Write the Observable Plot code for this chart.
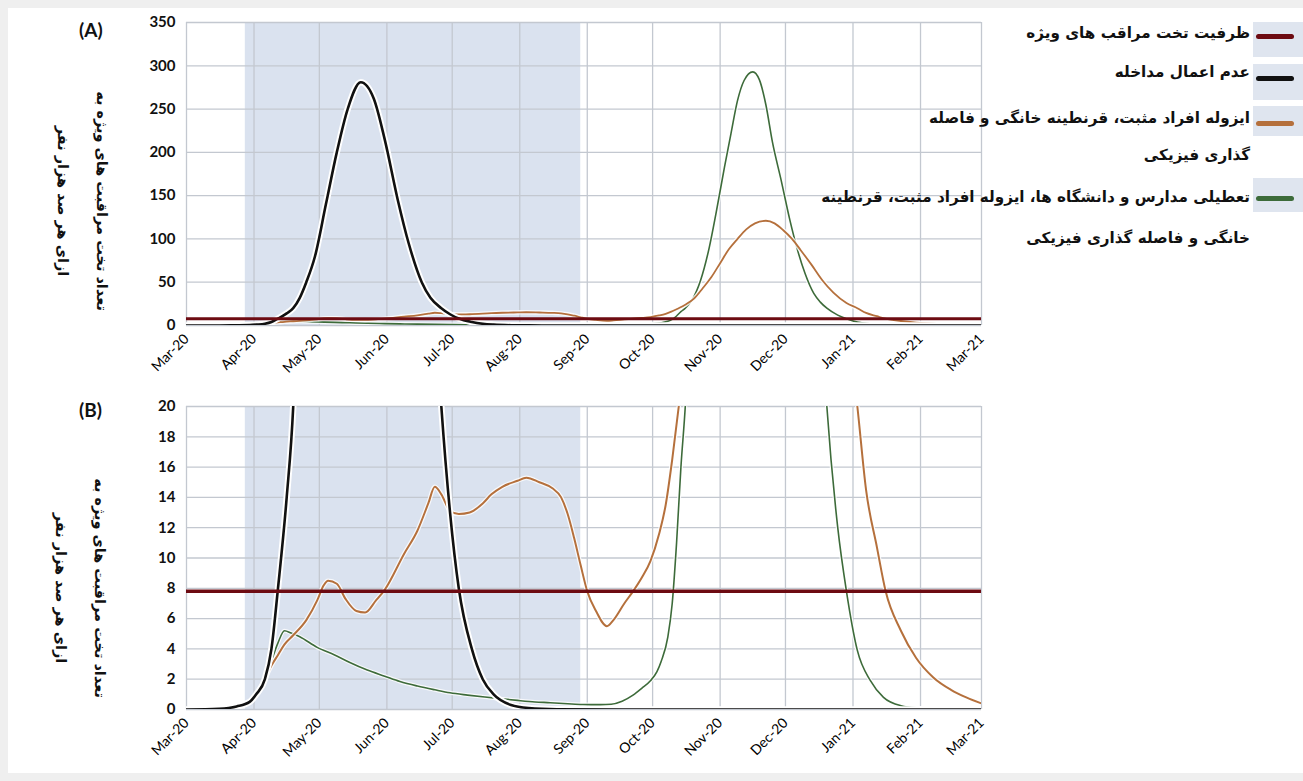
<!DOCTYPE html>
<html><head><meta charset="utf-8">
<script src="https://cdn.jsdelivr.net/npm/d3@7"></script>
<script src="https://cdn.jsdelivr.net/npm/@observablehq/plot@0.6"></script>
<style>
body{margin:0;background:#efefef;width:1303px;height:781px;overflow:hidden;position:relative;font-family:Lato,sans-serif}
#card{position:absolute;left:8px;top:8px;width:1295px;height:765px;background:#fff}
.abs{position:absolute}
.fa{font-family:"DejaVu Sans",sans-serif;font-weight:bold;direction:rtl;white-space:nowrap;color:#111}
.ytitle{position:absolute;width:320px;text-align:center;font-size:14.5px;line-height:18px;transform:rotate(90deg);transform-origin:50% 50%}
.leg{position:absolute;right:53px;font-size:15.2px;line-height:20px;text-align:right}
.legbox{position:absolute;left:1253px;width:50px;background:#dfe5ef}
.legline{position:absolute;left:1256px;width:38px;height:5px;border-radius:2.5px}
.plabel{position:absolute;font-family:Lato,sans-serif;font-weight:bold;font-size:19px;color:#111}
</style></head><body>
<div id="card"></div>
<div id="chartA" class="abs" style="left:120px;top:8px"></div>
<div id="chartB" class="abs" style="left:120px;top:392px"></div>
<div class="plabel" style="left:79px;top:18px">(A)</div>
<div class="plabel" style="left:79px;top:398px">(B)</div>
<div id="titles"></div>
<div id="legend"></div>
<script>
// ---------- data ----------
const monthTicks = ["2020-03-01","2020-04-01","2020-05-01","2020-06-01","2020-07-01","2020-08-01","2020-09-01","2020-10-01","2020-11-01","2020-12-01","2021-01-01","2021-02-01","2021-03-01"];
const monthLabels = ["Mar-20","Apr-20","May-20","Jun-20","Jul-20","Aug-20","Sep-20","Oct-20","Nov-20","Dec-20","Jan-21","Feb-21","Mar-21"];
const yTicksA = [0,50,100,150,200,250,300,350];
const yTicksB = [0,2,4,6,8,10,12,14,16,18,20];
const interventionPeriod = ["2020-03-28","2020-08-29"];
const icuCapacity = 7.8;

const noInterventionDates = ["2020-03-01","2020-03-16","2020-03-24","2020-03-30","2020-04-02","2020-04-06","2020-04-09","2020-04-12","2020-04-16","2020-04-19","2020-04-22","2020-04-25","2020-04-29","2020-05-04","2020-05-09","2020-05-14","2020-05-20","2020-05-26","2020-05-31","2020-06-06","2020-06-11","2020-06-17","2020-06-21","2020-06-26","2020-06-30","2020-07-04","2020-07-10","2020-07-15","2020-07-20","2020-07-28","2020-08-05","2020-08-18","2020-09-17","2021-03-01"];
const noInterventionValues = [0,0.05,0.2,0.5,1,2,4,8,14,20,32,50,80,140,200,250,281,262,215,145,95,50,32,20,13,8,4,2,1,0.3,0.1,0.02,0,0];

const isolationDates = ["2020-03-01","2020-03-16","2020-03-24","2020-03-30","2020-04-02","2020-04-06","2020-04-09","2020-04-12","2020-04-15","2020-04-19","2020-04-25","2020-04-30","2020-05-03","2020-05-05","2020-05-09","2020-05-13","2020-05-18","2020-05-22","2020-05-27","2020-05-31","2020-06-09","2020-06-15","2020-06-20","2020-06-23","2020-06-26","2020-06-30","2020-07-04","2020-07-09","2020-07-15","2020-07-19","2020-07-24","2020-07-31","2020-08-04","2020-08-10","2020-08-16","2020-08-20","2020-08-23","2020-08-26","2020-08-29","2020-09-01","2020-09-05","2020-09-10","2020-09-13","2020-09-18","2020-09-22","2020-09-26","2020-09-30","2020-10-04","2020-10-07","2020-10-10","2020-10-13","2020-10-16","2020-10-20","2020-10-24","2020-10-28","2020-11-01","2020-11-05","2020-11-09","2020-11-13","2020-11-17","2020-11-22","2020-11-26","2020-11-30","2020-12-04","2020-12-08","2020-12-13","2020-12-18","2020-12-23","2020-12-29","2021-01-03","2021-01-07","2021-01-12","2021-01-16","2021-01-23","2021-01-30","2021-02-07","2021-02-15","2021-02-22","2021-03-01"];
const isolationValues = [0.02,0.05,0.2,0.5,1.0,2.0,2.9,3.6,4.3,4.9,5.9,7.2,8.2,8.5,8.3,7.3,6.5,6.4,7.2,7.9,10.3,11.8,13.6,14.7,14.2,13.1,12.9,13.0,13.6,14.2,14.7,15.1,15.3,15.0,14.6,14.0,12.9,11.3,9.5,7.8,6.5,5.5,5.9,7.0,7.8,8.7,9.8,11.6,13.5,16.5,20,24,31,43,56,72,88,100,111,118,121,118,110,100,87,70,52,38,26,20,14.5,10.7,7.8,5.2,3.4,2.1,1.3,0.8,0.4];

const schoolsDates = ["2020-03-01","2020-03-16","2020-03-24","2020-03-30","2020-04-02","2020-04-06","2020-04-09","2020-04-12","2020-04-15","2020-04-18","2020-04-22","2020-04-30","2020-05-08","2020-05-15","2020-05-23","2020-05-31","2020-06-07","2020-06-15","2020-06-23","2020-06-30","2020-07-08","2020-07-16","2020-07-24","2020-07-31","2020-08-08","2020-08-15","2020-08-23","2020-08-30","2020-09-07","2020-09-12","2020-09-17","2020-09-22","2020-09-26","2020-09-30","2020-10-03","2020-10-05","2020-10-08","2020-10-10","2020-10-12","2020-10-14","2020-10-16","2020-10-19","2020-10-23","2020-10-27","2020-10-30","2020-11-03","2020-11-06","2020-11-09","2020-11-12","2020-11-16","2020-11-19","2020-11-22","2020-11-25","2020-11-29","2020-12-03","2020-12-06","2020-12-10","2020-12-14","2020-12-17","2020-12-20","2020-12-25","2020-12-29","2021-01-03","2021-01-09","2021-01-15","2021-01-23","2021-01-31","2021-02-15","2021-03-01"];
const schoolsValues = [0.02,0.05,0.2,0.5,1.0,2.0,3.2,4.4,5.2,5.05,4.8,4.1,3.6,3.1,2.6,2.2,1.85,1.55,1.3,1.1,0.95,0.82,0.7,0.6,0.5,0.45,0.38,0.33,0.32,0.35,0.55,0.95,1.4,1.9,2.5,3.2,4.8,7,11,16,20,29,52,90,128,183,222,260,283,293,284,255,212,168,122,92,60,37,27,20,12,7.8,3.9,1.9,0.8,0.25,0.1,0.02,0];

const legendLabels = [
  ["ظرفیت تخت مراقب های ویژه"],
  ["عدم اعمال مداخله"],
  ["ایزوله افراد مثبت، قرنطینه خانگی و فاصله","گذاری فیزیکی"],
  ["تعطیلی مدارس و دانشگاه ها، ایزوله افراد مثبت، قرنطینه","خانگی و فاصله گذاری فیزیکی"]
];
const yTitleLines = ["تعداد تخت مراقبت های ویژه به","ازای هر صد هزار نفر"];

// ---------- styling ----------
const cCap = "#6d0b12", cNone = "#111111", cIso = "#b5703c", cSch = "#3d6b3a";
const toRows = (ds, vs) => ds.map((d, i) => ({date: new Date(d), value: vs[i]}));
const none = toRows(noInterventionDates, noInterventionValues);
const iso = toRows(isolationDates, isolationValues);
const sch = toRows(schoolsDates, schoolsValues);
const tickDates = monthTicks.map(d => new Date(d));
const band = [{x1: new Date(interventionPeriod[0]), x2: new Date(interventionPeriod[1])}];
const fmt = d => monthLabels[tickDates.findIndex(t => +t === +d)];

function panel(yDomain, yTicks, w) {
  return Plot.plot({
    width: 880, height: 380,
    marginLeft: 66, marginRight: 19, marginTop: 14, marginBottom: 63,
    style: {fontFamily: "Lato, sans-serif", background: "transparent", overflow: "visible"},
    x: {type: "utc", domain: [tickDates[0], tickDates[12]]},
    y: {domain: yDomain},
    marks: [
      Plot.rect(band, {x1: "x1", x2: "x2", fill: "#dae2ef"}),
      Plot.gridX(tickDates, {stroke: "#c3c8d0", strokeOpacity: 1, strokeWidth: 1.3}),
      Plot.gridY(yTicks, {stroke: "#c3c8d0", strokeOpacity: 1, strokeWidth: 1.3}),
      Plot.line(sch, {x: "date", y: "value", stroke: "white", strokeWidth: 4, strokeOpacity: 0.8, curve: "monotone-x", clip: true}),
      Plot.line(sch, {x: "date", y: "value", stroke: cSch, strokeWidth: w.sch, curve: "monotone-x", clip: true}),
      Plot.line(iso, {x: "date", y: "value", stroke: "white", strokeWidth: 4.5, strokeOpacity: 0.8, curve: "monotone-x", clip: true}),
      Plot.line(iso, {x: "date", y: "value", stroke: cIso, strokeWidth: w.iso, curve: "monotone-x", clip: true}),
      Plot.line(none, {x: "date", y: "value", stroke: "white", strokeWidth: 6.5, curve: "monotone-x", clip: true}),
      Plot.line(none, {x: "date", y: "value", stroke: cNone, strokeWidth: w.none, curve: "monotone-x", clip: true}),
      Plot.ruleY([icuCapacity], {stroke: cCap, strokeWidth: w.cap}),
      Plot.axisX(tickDates, {tickFormat: fmt, tickRotate: -45, tickSize: 0, tickPadding: 11, fontSize: 14, fill: "#000", label: null}),
      Plot.axisY(yTicks, {tickSize: 0, tickPadding: 11, fontSize: 15, fontWeight: "bold", fill: "#111", label: null})
    ]
  });
}
document.getElementById("chartA").append(panel([0, 350], yTicksA, {sch: 1.6, iso: 1.8, none: 2.6, cap: 3}));
document.getElementById("chartB").append(panel([0, 20], yTicksB, {sch: 1.6, iso: 2, none: 2.6, cap: 3.5}));

// y titles
const titles = document.getElementById("titles");
[[102, 201], [100, 588]].forEach(([cx, cy]) => {
  yTitleLines.forEach((t, i) => {
    const d = document.createElement("div");
    d.className = "fa ytitle";
    d.textContent = t;
    const x = i === 0 ? cx : cx - 39;
    d.style.left = (x - 160) + "px";
    d.style.top = (cy - 9) + "px";
    titles.append(d);
  });
});

// legend
const legend = document.getElementById("legend");
const legColors = [cCap, cNone, cIso, cSch];
const legTextY = [[33], [72], [118, 155], [197, 238]];
const legLineY = [36, 78, 123, 198];
const legBox = [[22, 35], [64, 36], [106, 30], [178, 34]];
legendLabels.forEach((lines, k) => {
  const b = document.createElement("div");
  b.className = "legbox";
  b.style.top = legBox[k][0] + "px"; b.style.height = legBox[k][1] + "px";
  legend.append(b);
  const l = document.createElement("div");
  l.className = "legline";
  l.style.top = (legLineY[k] - 2.5) + "px"; l.style.background = legColors[k];
  legend.append(l);
  lines.forEach((t, j) => {
    const d = document.createElement("div");
    d.className = "fa leg";
    d.textContent = t;
    d.style.top = (legTextY[k][j] - 10) + "px";
    legend.append(d);
  });
});
</script>
</body></html>
